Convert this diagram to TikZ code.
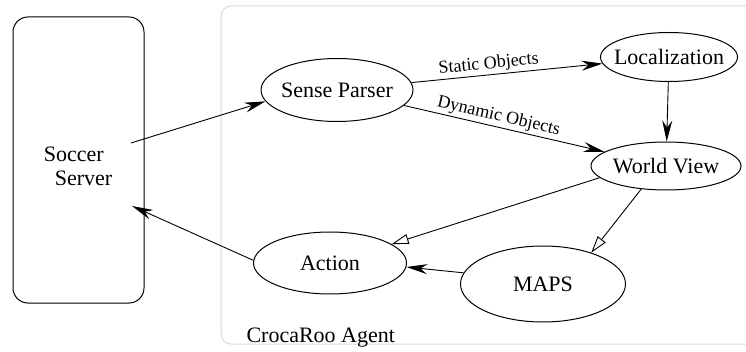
\documentclass[tikz,border=0pt]{standalone}
\usepackage{fontspec}
\setmainfont{Liberation Serif}
\usepackage{tikz}
\usetikzlibrary{shapes.geometric,arrows.meta,positioning}
\tikzset{
    server/.style={rectangle, draw, line width=1pt, rounded corners=15pt, minimum width=131pt, minimum height=286pt},
    agent/.style={rectangle, draw=black!15, line width=1pt, rounded corners=10pt},
    module/.style={ellipse, draw, line width=1pt, inner sep=0pt, font=\fontsize{22}{24}\selectfont},
    elabel/.style={font=\fontsize{18}{20}\selectfont, sloped, above, inner sep=2pt},
    flow/.style={-{Stealth[length=21pt, width=10pt, inset=7pt]}, line width=0.9pt},
    hollow/.style={-{Triangle[open, length=17pt, width=10pt]}, line width=0.9pt},
}

\begin{document}
\begin{tikzpicture}[x=1pt, y=-1pt]
    \useasboundingbox (0,0) rectangle (746,352);
    \clip (0,0) rectangle (746,352);

    % agent frame and server
    \node[agent, minimum width=540pt, minimum height=338pt] (frame) at (491,175) {};
    \node[anchor=base west, font=\fontsize{22}{24}\selectfont] (agentname) at (243,342) {CrocaRoo Agent};
    \node[server] (srv) at (78.5,160) {};
    \node[align=left, font=\fontsize{22}{24}\selectfont] (srvtext) at (78,166) {Soccer\\\hspace*{11pt}Server};
    \coordinate (srvout) at (131,143);
    \coordinate (srvin) at (132,206);

    % modules
    \node[module, minimum width=152pt, minimum height=63pt] (parser) at (337,90) {\makebox[0pt]{Sense Parser}};
    \node[module, minimum width=137pt, minimum height=49pt] (loc) at (669,57) {\makebox[0pt]{Localization}};
    \node[module, minimum width=150pt, minimum height=48pt] (world) at (666,166) {\makebox[0pt]{World View}};
    \node[module, minimum width=153pt, minimum height=62pt] (action) at (330,263) {\makebox[0pt]{Action}};
    \node[module, minimum width=165pt, minimum height=76pt] (maps) at (543,284) {\makebox[0pt]{MAPS}};

    \draw[flow] (srvout) -- (parser.189);
    \draw[flow] (parser) -- node[elabel, pos=0.41] {Static Objects} (loc);
    \draw[flow] (parser) -- node[elabel, pos=0.46] {Dynamic Objects} (world);
    \draw[flow] (loc) -- (world);
    \draw[hollow] (world.190) -- (action.17);
    \draw[hollow] (world.223) -- (maps.33);
    \draw[flow] (maps.172) -- (action.357);
    \draw[flow] (action.178) -- (srvin);
\end{tikzpicture}
\end{document}
